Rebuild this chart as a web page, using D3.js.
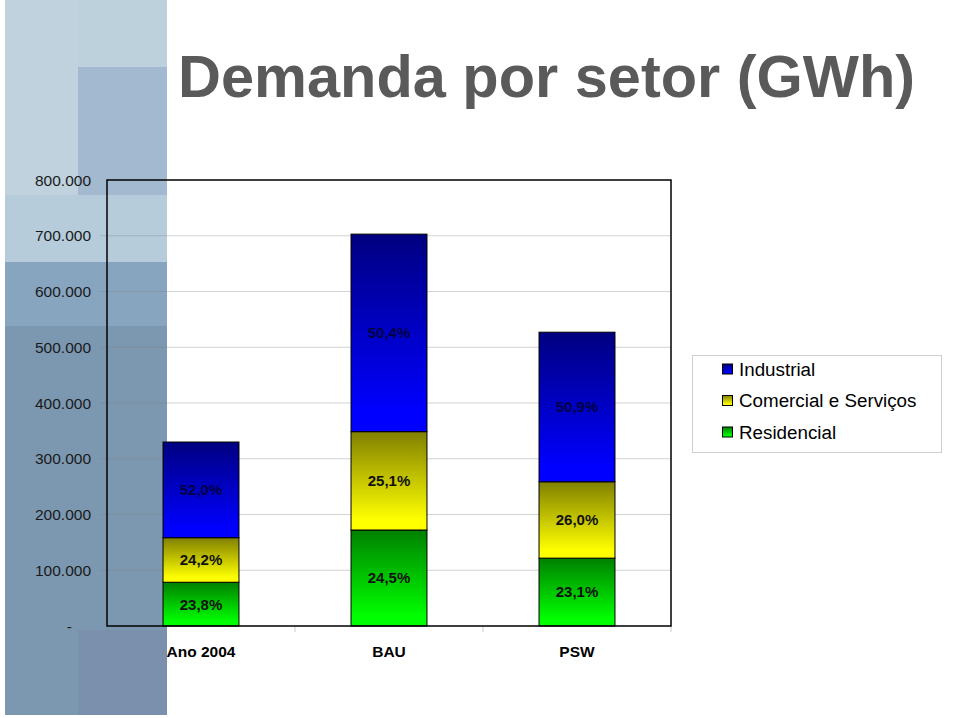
<!DOCTYPE html>
<html>
<head>
<meta charset="utf-8">
<script src="https://cdn.jsdelivr.net/npm/d3@7"></script>
<style>
  html, body { margin: 0; padding: 0; background: #fff; }
  svg { display: block; font-family: "Liberation Sans", Arial, sans-serif; }
</style>
</head>
<body>
<div id="app"></div>
<script>
// data (GWh)
const categories = ['Ano 2004', 'BAU', 'PSW'];
const residencial = [78500, 172200, 121700];
const comercial = [79900, 176400, 137000];
const industrial = [171600, 354300, 268300];
const pctResidencial = ['23,8%', '24,5%', '23,1%'];
const pctComercial = ['24,2%', '25,1%', '26,0%'];
const pctIndustrial = ['52,0%', '50,4%', '50,9%'];
const yTicks = [0, 100000, 200000, 300000, 400000, 500000, 600000, 700000, 800000];
const yTickLabels = ['-', '100.000', '200.000', '300.000', '400.000', '500.000', '600.000', '700.000', '800.000'];
const seriesNames = ['Industrial', 'Comercial e Serviços', 'Residencial'];

const width = 959;
const height = 718;
const plot = { left: 107, right: 671, top: 180, bottom: 626 };

const series = [
  { key: 'residencial', label: 'Residencial', pct: pctResidencial, dark: '#008000', light: '#00ff00', text: '#111' },
  { key: 'comercial', label: 'Comercial e Serviços', pct: pctComercial, dark: '#808000', light: '#ffff00', text: '#111' },
  { key: 'industrial', label: 'Industrial', pct: pctIndustrial, dark: '#000080', light: '#0000ff', text: '#000045' }
];

const rows = categories.map((c, i) => ({
  cat: c,
  residencial: residencial[i],
  comercial: comercial[i],
  industrial: industrial[i]
}));

const svg = d3.select('#app').append('svg')
  .attr('width', width)
  .attr('height', height);

// decorative side panel
const panel = svg.append('g');
[
  [5, 0, 162, 715, '#7c98b0'],
  [5, 0, 73, 195, '#bfd2de'],
  [78, 0, 89, 67, '#bdd1dd'],
  [78, 67, 89, 128, '#a2b9cf'],
  [5, 195, 162, 67, '#b6ccdb'],
  [5, 262, 162, 64, '#88a5bf'],
  [78, 630, 89, 85, '#7b90ad']
].forEach(([x, y, w, h, c]) => {
  panel.append('rect').attr('x', x).attr('y', y).attr('width', w).attr('height', h).attr('fill', c);
});

// title
svg.append('text')
  .attr('x', 178)
  .attr('y', 97)
  .attr('font-size', 59.5)
  .attr('font-weight', 'bold')
  .attr('fill', '#5a5a5a')
  .text('Demanda por setor (GWh)');

const x = d3.scaleBand()
  .domain(categories)
  .range([plot.left, plot.right])
  .paddingInner(0.596)
  .paddingOuter(0.298);

const y = d3.scaleLinear()
  .domain([0, 800000])
  .range([plot.bottom, plot.top]);

// gradients
const defs = svg.append('defs');
series.forEach(s => {
  const g = defs.append('linearGradient')
    .attr('id', `grad-${s.key}`)
    .attr('x1', 0).attr('y1', 0).attr('x2', 0).attr('y2', 1);
  g.append('stop').attr('offset', '0%').attr('stop-color', s.dark);
  g.append('stop').attr('offset', '90%').attr('stop-color', s.light);
  g.append('stop').attr('offset', '100%').attr('stop-color', s.light);
});

// gridlines + outer ticks
svg.append('g')
  .selectAll('line')
  .data(yTicks.filter(d => d > 0 && d < 800000))
  .join('line')
  .attr('x1', plot.left - 7)
  .attr('x2', plot.right)
  .attr('y1', d => y(d))
  .attr('y2', d => y(d))
  .attr('stroke', '#808080')
  .attr('stroke-opacity', 0.35)
  .attr('stroke-width', 1);

// y tick labels ("-" for zero sits further left, like the original)
svg.append('g')
  .selectAll('text')
  .data(yTicks)
  .join('text')
  .attr('x', 91)
  .attr('dx', d => d === 0 ? -19 : 0)
  .attr('y', d => y(d))
  .attr('dy', '0.36em')
  .attr('text-anchor', 'end')
  .attr('font-size', 15.5)
  .attr('fill', '#1a1a1a')
  .text((d, i) => yTickLabels[i]);

// category ticks under axis
const catEdges = categories.map(c => x(c) - x.step() * x.paddingOuter()).concat([plot.right]);
svg.append('g')
  .selectAll('line')
  .data(catEdges)
  .join('line')
  .attr('x1', d => d).attr('x2', d => d)
  .attr('y1', plot.bottom).attr('y2', plot.bottom + 6)
  .attr('stroke', '#808080')
  .attr('stroke-opacity', 0.4);

// stacked bars
const stack = d3.stack().keys(series.map(s => s.key));
const stacked = stack(rows);

const layers = svg.append('g')
  .selectAll('g')
  .data(stacked)
  .join('g')
  .attr('fill', d => `url(#grad-${d.key})`);

layers.selectAll('rect')
  .data(d => d)
  .join('rect')
  .attr('x', d => x(d.data.cat))
  .attr('width', x.bandwidth())
  .attr('y', d => y(d[1]))
  .attr('height', d => y(d[0]) - y(d[1]))
  .attr('stroke', '#000')
  .attr('stroke-width', 1);

// percentage labels
stacked.forEach((layer, li) => {
  const s = series[li];
  svg.append('g')
    .selectAll('text')
    .data(layer)
    .join('text')
    .attr('x', d => x(d.data.cat) + x.bandwidth() / 2)
    .attr('y', d => (y(d[0]) + y(d[1])) / 2)
    .attr('dy', '0.36em')
    .attr('text-anchor', 'middle')
    .attr('font-size', 15)
    .attr('font-weight', 'bold')
    .attr('fill', s.text)
    .text((d, i) => s.pct[i]);
});

// plot frame
svg.append('rect')
  .attr('x', plot.left)
  .attr('y', plot.top)
  .attr('width', plot.right - plot.left)
  .attr('height', plot.bottom - plot.top)
  .attr('fill', 'none')
  .attr('stroke', '#000')
  .attr('stroke-width', 1.5);

// category labels
svg.append('g')
  .selectAll('text')
  .data(categories)
  .join('text')
  .attr('x', d => x(d) + x.bandwidth() / 2)
  .attr('y', 651)
  .attr('dy', '0.36em')
  .attr('text-anchor', 'middle')
  .attr('font-size', 15.5)
  .attr('font-weight', 'bold')
  .attr('fill', '#000')
  .text(d => d);

// legend
const legend = svg.append('g');
legend.append('rect')
  .attr('x', 692.5).attr('y', 355.5)
  .attr('width', 249).attr('height', 97)
  .attr('fill', '#fff')
  .attr('stroke', '#cfcfcf');

const legendOrder = seriesNames.map(n => series.find(s => s.label === n));
const item = legend.selectAll('g')
  .data(legendOrder)
  .join('g')
  .attr('transform', (d, i) => `translate(0, ${369 + i * 31.5})`);

item.append('rect')
  .attr('x', 722.5).attr('y', -5)
  .attr('width', 10).attr('height', 10)
  .attr('fill', d => `url(#grad-${d.key})`)
  .attr('stroke', '#000');

item.append('text')
  .attr('x', 739)
  .attr('y', 0)
  .attr('dy', '0.36em')
  .attr('font-size', 18.8)
  .attr('fill', '#000')
  .text(d => d.label);
</script>
</body>
</html>
